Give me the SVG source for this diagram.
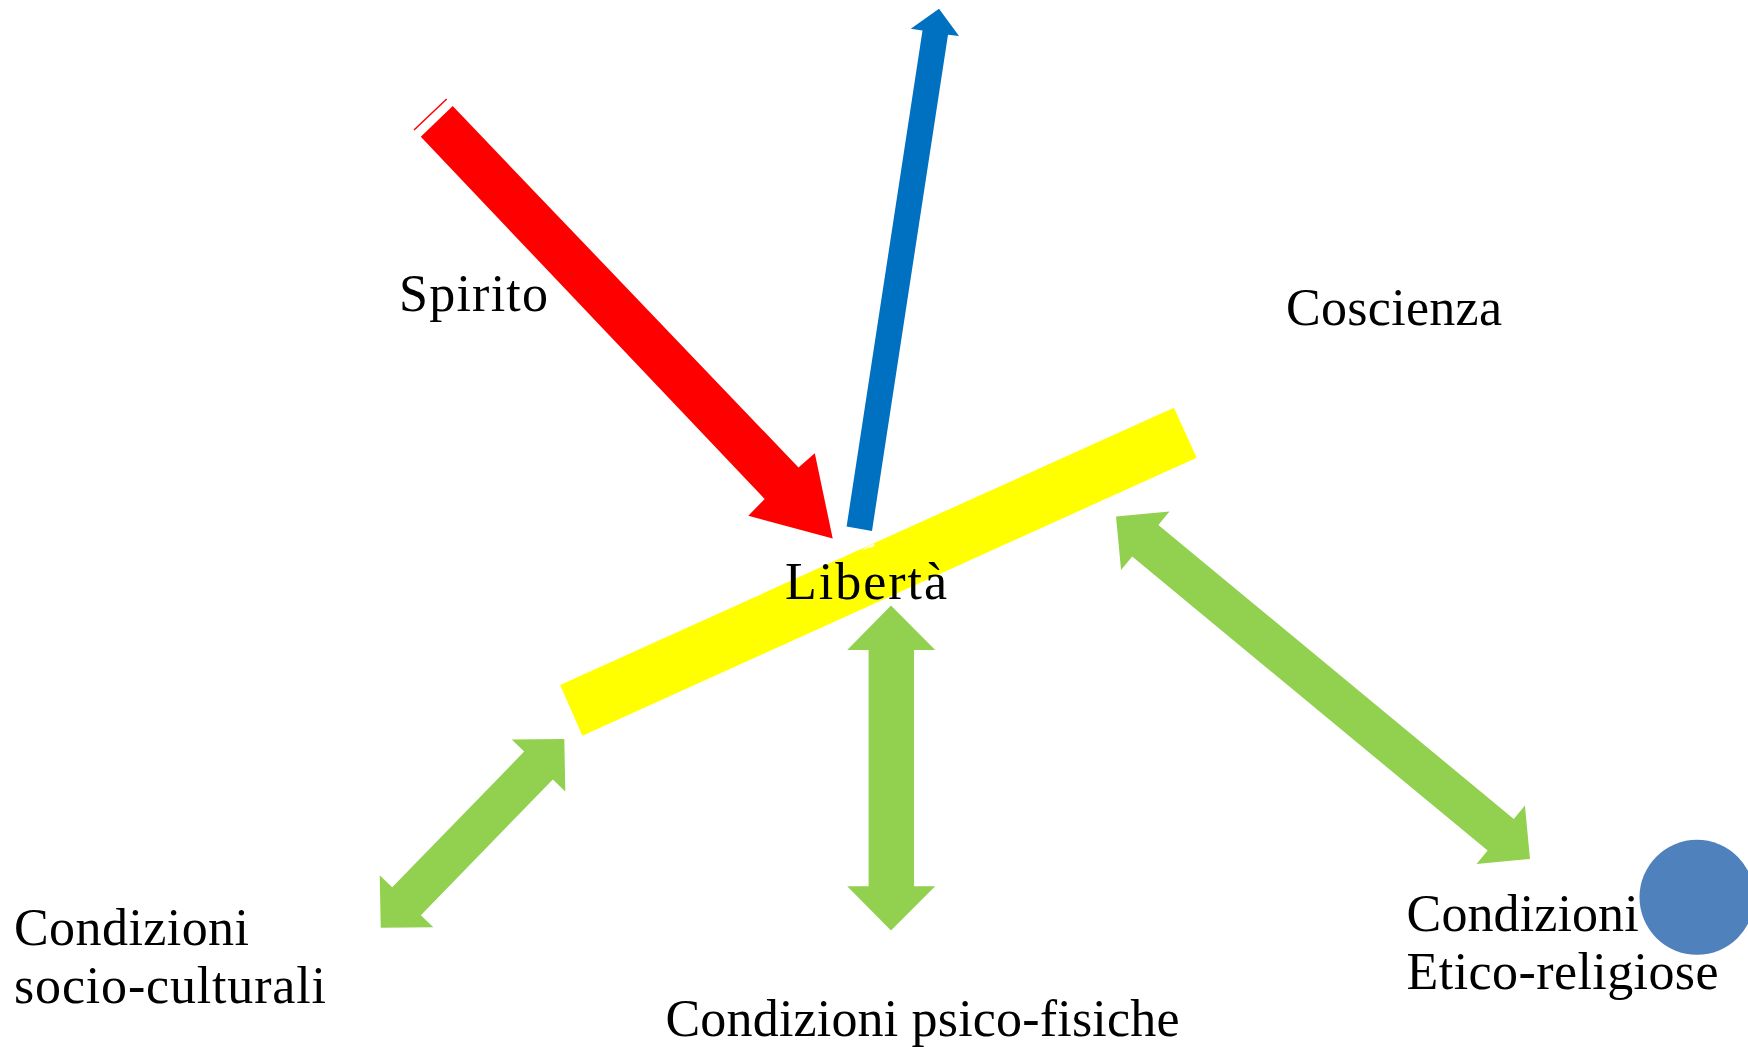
<svg xmlns="http://www.w3.org/2000/svg" width="1748" height="1047" viewBox="0 0 1748 1047">
  <style>
    .lbl { font-family: "Liberation Serif", "Times New Roman", serif; font-size: 52px; fill: #000000; }
    .green { fill: #92D050; }
  </style>
  <rect x="0" y="0" width="1748" height="1047" fill="#FFFFFF"/>

  <g id="node-liberta">
    <polygon points="560.1,685 1173.9,407.7 1196.7,457.7 582.4,735.7" fill="#FFFF00"/>
    <polygon points="861,550 874,543.5 874,546.5" fill="#FFFFFF"/>
    <text class="lbl" x="785" y="599" textLength="162">Libertà</text>
  </g>

  <g id="connectors">
    <line x1="414" y1="130" x2="446.7" y2="99" stroke="#FF0000" stroke-width="1.5"/>
    <polygon id="arrow-spirito" points="420.8,136.8 452.7,106.1 798.5,467.5 814.8,453.3 832.7,538.4 748.3,515.7 764.7,499" fill="#FF0000"/>
    <polygon id="arrow-up" points="846.6,526.6 872,530.9 948,34.8 959,36 939,8.8 910.8,28.7 922.5,30.6" fill="#0070C0"/>
    <polygon id="arrow-socio" class="green" transform="translate(564.3,739) rotate(134.2)" points="0,0 37,-37.4 37,-20 226.3,-20 226.3,-37.4 263.3,0 226.3,37.4 226.3,20 37,20 37,37.4"/>
    <polygon id="arrow-psico" class="green" points="891,605.5 935.2,650 914,650 914,886.3 935.2,886.3 891,930.5 847.2,886.3 868.6,886.3 868.6,650 847.2,650"/>
    <polygon id="arrow-etico" class="green" transform="translate(1116,516.5) rotate(39.6)" points="0,0 38,-38 38,-20.5 499.3,-20.5 499.3,-38 537.3,0 499.3,38 499.3,20.5 38,20.5 38,38"/>
  </g>

  <g id="node-spirito">
    <text class="lbl" x="399" y="311" textLength="149">Spirito</text>
  </g>
  <g id="node-coscienza">
    <text class="lbl" x="1286" y="325" textLength="216">Coscienza</text>
  </g>
  <g id="node-socio">
    <text class="lbl" x="14" y="945" textLength="235">Condizioni</text>
    <text class="lbl" x="14" y="1003" textLength="312">socio-culturali</text>
  </g>
  <g id="node-psico">
    <text class="lbl" x="665.5" y="1036" textLength="514">Condizioni psico-fisiche</text>
  </g>
  <g id="node-circle">
    <circle cx="1697" cy="897.3" r="57.5" fill="#4F81BD"/>
  </g>
  <g id="node-etico">
    <text class="lbl" x="1406.6" y="931" textLength="232">Condizioni</text>
    <text class="lbl" x="1406.6" y="988.5" textLength="312">Etico-religiose</text>
  </g>
</svg>
